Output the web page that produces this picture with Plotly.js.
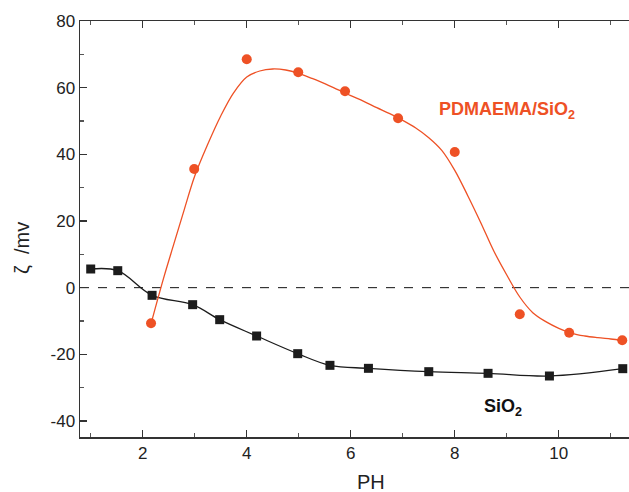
<!DOCTYPE html>
<html>
<head>
<meta charset="utf-8">
<script src="https://cdn.plot.ly/plotly-3.0.1.min.js"></script>
<style>html,body{margin:0;padding:0;background:#fff;}#chart{width:629px;height:492px;}</style>
</head>
<body>
<div id="chart"></div>
<script>
// SiO2 measured points
const sioPH   = [1.0, 1.52, 2.18, 2.96, 3.48, 4.19, 4.98, 5.6, 6.34, 7.5, 8.64, 9.82, 11.23];
const sioZeta = [5.6, 5.1, -2.3, -5.1, -9.6, -14.5, -19.8, -23.3, -24.2, -25.2, -25.7, -26.5, -24.3];
// PDMAEMA/SiO2 measured points
const pdPH   = [2.16, 2.99, 4.0, 4.99, 5.89, 6.91, 8.0, 9.25, 10.2, 11.22];
const pdZeta = [-10.7, 35.6, 68.5, 64.6, 58.9, 50.8, 40.7, -8.0, -13.5, -15.8];
// PDMAEMA/SiO2 fitted curve
const pdFitPH   = [2.16, 2.4, 2.6, 2.8, 3.0, 3.25, 3.5, 3.75, 4.0, 4.25, 4.5, 4.75, 5.0, 5.25, 5.5, 5.75, 6.0, 6.25, 6.5, 6.75, 7.0, 7.25, 7.5, 7.75, 8.0, 8.25, 8.5, 8.75, 9.0, 9.25, 9.5, 9.75, 10.0, 10.25, 10.5, 10.75, 11.0, 11.22];
const pdFitZeta = [-10.8, 2.8, 13.2, 23.5, 33.5, 43.0, 51.5, 58.5, 63.2, 65.0, 65.6, 65.3, 64.3, 62.8, 61.2, 59.4, 57.6, 55.9, 54.0, 52.2, 50.2, 47.9, 45.0, 41.2, 35.2, 27.6, 19.5, 11.0, 3.8, -2.8, -7.5, -10.2, -12.2, -13.7, -14.5, -15.0, -15.4, -15.8];
// axis ticks
const xTickVals = [2, 4, 6, 8, 10];
const yTickVals = [-40, -20, 0, 20, 40, 60, 80];

const orange = '#EE5125';
const black = '#1c1c1c';

const traces = [
  {x: sioPH, y: sioZeta, mode: 'lines', line: {color: black, width: 1.3, shape: 'spline', smoothing: 1}, hoverinfo: 'skip'},
  {x: sioPH, y: sioZeta, mode: 'markers', marker: {symbol: 'square', size: 9, color: black}},
  {x: pdFitPH, y: pdFitZeta, mode: 'lines', line: {color: orange, width: 1.3, shape: 'spline', smoothing: 1}, hoverinfo: 'skip'},
  {x: pdPH, y: pdZeta, mode: 'markers', marker: {symbol: 'circle', size: 10, color: orange}}
];

const tickFont = {family: 'Liberation Sans, Arial, sans-serif', size: 17, color: '#222'};

const layout = {
  width: 629, height: 492,
  margin: {l: 80, r: 0, t: 21, b: 55},
  paper_bgcolor: '#fff', plot_bgcolor: '#fff',
  showlegend: false,
  xaxis: {
    range: [0.794, 11.35], tickvals: xTickVals, ticktext: xTickVals.map(String),
    ticks: 'inside', ticklen: 7, tickwidth: 1.2, tickcolor: '#333',
    minor: {dtick: 1, tick0: 0, ticks: 'inside', ticklen: 4, tickcolor: '#555'},
    showline: true, linecolor: '#333', linewidth: 1.5, mirror: 'ticks',
    showgrid: false, zeroline: false, tickfont: tickFont
  },
  yaxis: {
    range: [-44.8, 80], tickvals: yTickVals, ticktext: yTickVals.map(String),
    ticks: 'inside', ticklen: 7, tickwidth: 1.2, tickcolor: '#333',
    minor: {dtick: 10, tick0: 0, ticks: 'inside', ticklen: 4, tickcolor: '#555'},
    showline: true, linecolor: '#333', linewidth: 1.5, mirror: false,
    showgrid: false, zeroline: false, tickfont: tickFont
  },
  shapes: [
    {type: 'line', xref: 'paper', x0: 0, x1: 1, yref: 'y', y0: 0, y1: 0, line: {color: '#111', width: 1, dash: 'dash'}, layer: 'below'}
  ],
  annotations: [
    {text: '<b>PDMAEMA/SiO<sub>2</sub></b>', xref: 'paper', yref: 'paper', x: 0.65, y: 0.784, xanchor: 'left', yanchor: 'middle', showarrow: false, font: {family: 'Liberation Sans, Arial, sans-serif', size: 18, color: orange}},
    {text: '<b>SiO<sub>2</sub></b>', xref: 'paper', yref: 'paper', x: 0.732, y: 0.072, xanchor: 'left', yanchor: 'middle', showarrow: false, font: {family: 'Liberation Sans, Arial, sans-serif', size: 18, color: '#111'}},
    {text: 'PH', xref: 'paper', yref: 'paper', x: 0.53, y: -0.108, xanchor: 'center', yanchor: 'middle', showarrow: false, font: {family: 'Liberation Sans, Arial, sans-serif', size: 20, color: '#222'}},
    {text: 'ζ  /mv', xref: 'paper', yref: 'paper', x: -0.106, y: 0.454, xanchor: 'center', yanchor: 'middle', textangle: -90, showarrow: false, font: {family: 'Liberation Sans, Arial, sans-serif', size: 20, color: '#222'}}
  ]
};

Plotly.newPlot('chart', traces, layout, {displayModeBar: false, staticPlot: true});
</script>
</body>
</html>
